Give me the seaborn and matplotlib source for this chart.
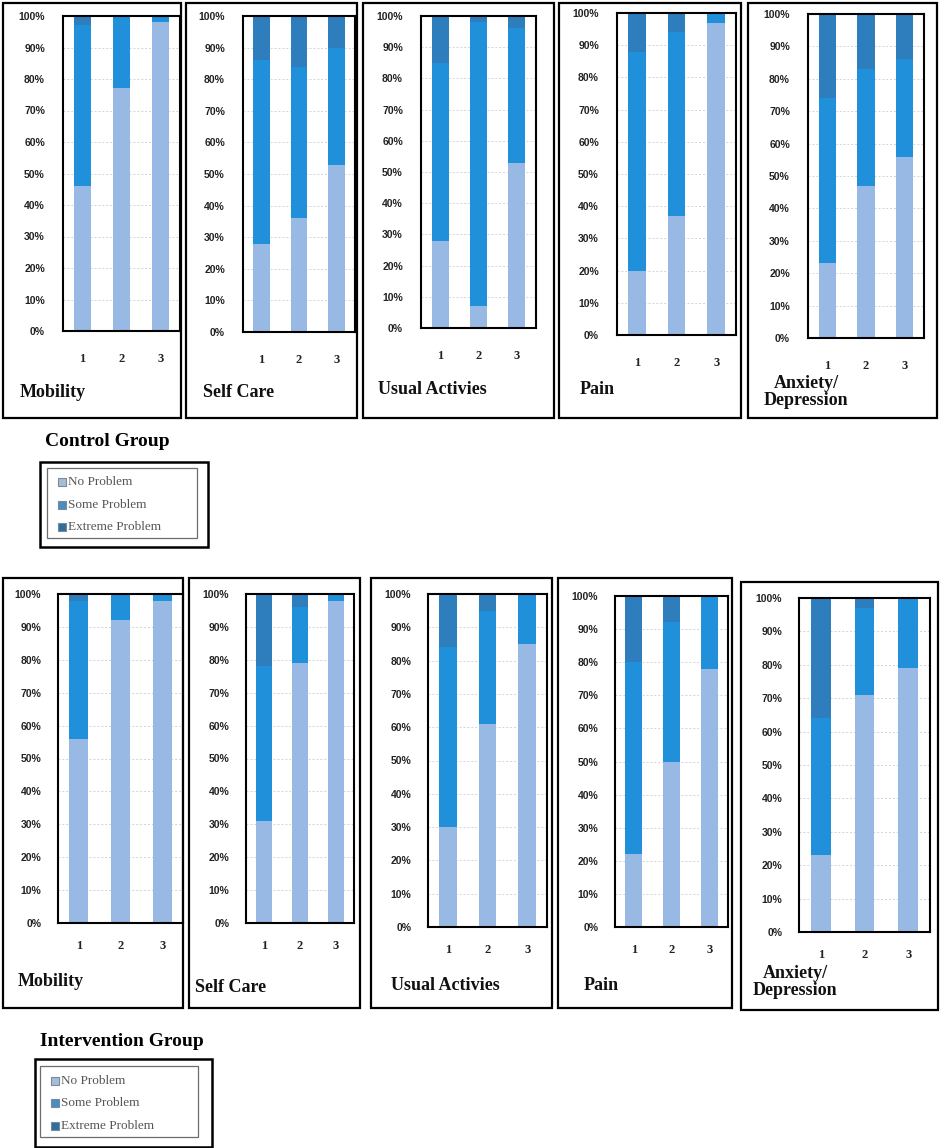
import matplotlib
matplotlib.use("Agg")
import matplotlib.pyplot as plt
from matplotlib.patches import Rectangle
import pandas as pd
import seaborn as sns

# ---------------- data ----------------
dimensions = ["Mobility", "Self Care", "Usual Activies", "Pain", "Anxiety/\nDepression"]
time_points = ["1", "2", "3"]
y_ticks = [0, 10, 20, 30, 40, 50, 60, 70, 80, 90, 100]
series_names = ["No Problem", "Some Problem", "Extreme Problem"]

# Control group (% per time point)
control_no = [[46, 77, 98], [28, 36, 53], [28, 7, 53], [20, 37, 97], [23, 47, 56]]
control_some = [[51, 23, 2], [58, 48, 37], [57, 91, 43], [68, 57, 3], [51, 36, 30]]
control_extreme = [[3, 0, 0], [14, 16, 10], [15, 2, 4], [12, 6, 0], [26, 17, 14]]

# Intervention group (% per time point)
interv_no = [[56, 92, 98], [31, 79, 98], [30, 61, 85], [22, 50, 78], [23, 71, 79]]
interv_some = [[42, 8, 2], [47, 17, 2], [54, 34, 15], [58, 42, 22], [41, 26, 21]]
interv_extreme = [[2, 0, 0], [22, 4, 0], [16, 5, 0], [20, 8, 0], [36, 3, 0]]

group_titles = ["Control Group", "Intervention Group"]

# ---------------- style ----------------
COL_NO = "#98B9E4"
COL_SOME = "#2190DA"
COL_EXT = "#2E7DBD"
LEG_COLS = ["#A9BCD6", "#4A8DBF", "#2F6E9C"]

W, H = 941, 1148
sns.set_theme(style="white")
plt.rcParams["font.family"] = ["Liberation Serif", "DejaVu Serif"]

fig = plt.figure(figsize=(W / 100, H / 100), dpi=100)
fig.patch.set_facecolor("white")


def fbox(x0, y0, x1, y1):
    return [x0 / W, 1 - y1 / H, (x1 - x0) / W, (y1 - y0) / H]


def frame(x0, y0, x1, y1, lw=1.6, ec="black"):
    fig.add_artist(Rectangle((x0 / W, 1 - y1 / H), (x1 - x0) / W, (y1 - y0) / H,
                             transform=fig.transFigure, fill=False, lw=lw, ec=ec))


# layout (pixels)
layouts = [
    dict(outer=[(3, 3, 181, 418), (186, 3, 357, 418), (363, 3, 554, 418), (559, 3, 741, 418), (748, 3, 937, 418)],
         inner=[(63, 16, 180, 331), (243, 16, 355, 332), (421, 16, 536, 328), (617, 13, 736, 335), (808, 14, 924, 338)],
         labels=[(20, 392, "left"), (203, 392, "left"), (378, 390, "left"), (580, 390, "left"), (806, 392, "center")],
         xpad=16, ypad=13,
         title=(45, 441), leg_outer=(40, 462, 208, 547), leg_inner=(47, 468, 197, 538),
         leg_rows=[482, 505, 527], leg_x=58),
    dict(outer=[(3, 578, 183, 1008), (189, 578, 360, 1008), (371, 578, 552, 1008), (558, 578, 732, 1008), (741, 582, 938, 1010)],
         inner=[(58, 594, 183, 923), (246, 594, 354, 923), (428, 594, 547, 927), (615, 596, 728, 927), (799, 598, 930, 932)],
         labels=[(18, 982, "left"), (195, 988, "left"), (391, 985, "left"), (584, 985, "left"), (795, 982, "center")],
         xpad=12, ypad=12,
         title=(40, 1042), leg_outer=(35, 1059, 212, 1147), leg_inner=(40, 1066, 198, 1137),
         leg_rows=[1081, 1103, 1126], leg_x=51),
]

groups = [(control_no, control_some, control_extreme), (interv_no, interv_some, interv_extreme)]

for g, (nos, somes, exts) in enumerate(groups):
    L = layouts[g]
    for i, dim in enumerate(dimensions):
        frame(*L["outer"][i], lw=1.6)
        ax = fig.add_axes(fbox(*L["inner"][i]))
        df = pd.DataFrame({"time": time_points, "no": nos[i], "some": somes[i], "ext": exts[i]})
        df["top_some"] = df["no"] + df["some"]
        df["top_ext"] = df["top_some"] + df["ext"]
        for col, c in [("top_ext", COL_EXT), ("top_some", COL_SOME), ("no", COL_NO)]:
            sns.barplot(data=df, x="time", y=col, color=c, saturation=1, width=0.45,
                        errorbar=None, ax=ax, order=time_points, edgecolor="none", linewidth=0)
        ax.set_xlim(-0.5, 2.5)
        ax.set_ylim(0, 100)
        ax.set_yticks(y_ticks)
        ax.set_yticklabels([f"{v}%" for v in y_ticks], fontsize=7.5, fontweight="bold",
                           family=["Liberation Sans", "DejaVu Sans"], color="#222222")
        ax.set_xticks(range(len(time_points)))
        ax.set_xticklabels(time_points, fontsize=9, fontweight="bold", color="#222222")
        ax.tick_params(axis="y", length=0, pad=L["ypad"])
        ax.tick_params(axis="x", length=0, pad=L["xpad"])
        ax.set_xlabel("")
        ax.set_ylabel("")
        ax.set_axisbelow(True)
        ax.yaxis.grid(True, color="#d4d4d4", lw=0.7, ls=(0, (2, 2)))
        ax.xaxis.grid(False)
        for s in ax.spines.values():
            s.set_visible(True)
            s.set_color("black")
            s.set_linewidth(1.5)
        lx, ly, ha = L["labels"][i]
        fig.text(lx / W, 1 - ly / H, dim, ha=ha, va="center", fontsize=13, fontweight="bold",
                 multialignment="center", linespacing=0.95, color="#111111")

    # group title + legend
    tx, ty = L["title"]
    fig.text(tx / W, 1 - ty / H, group_titles[g], ha="left", va="center", fontsize=14,
             fontweight="bold", color="black")
    frame(*L["leg_outer"], lw=1.8, ec="black")
    frame(*L["leg_inner"], lw=0.9, ec="#6d6d6d")
    for k, name in enumerate(series_names):
        ry = L["leg_rows"][k]
        sx = L["leg_x"]
        fig.add_artist(Rectangle(((sx) / W, 1 - (ry + 4) / H), 8 / W, 8 / H, transform=fig.transFigure,
                                 fc=LEG_COLS[k], ec="#7a8a9a", lw=0.8))
        fig.text((sx + 10) / W, 1 - ry / H, name, ha="left", va="center", fontsize=9.5, color="#555555")

fig.savefig("out.png", dpi=100, facecolor="white")
